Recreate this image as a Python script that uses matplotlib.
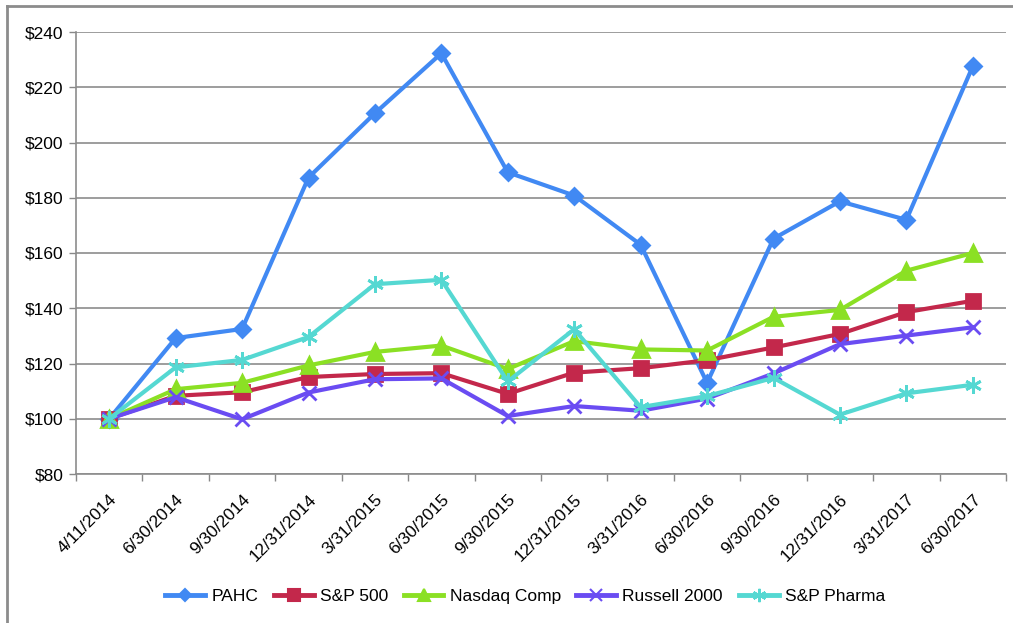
import matplotlib
matplotlib.use("Agg")
import matplotlib.pyplot as plt
from matplotlib.ticker import FuncFormatter
from matplotlib.lines import Line2D

plt.rcParams['font.family'] = ['Liberation Sans', 'DejaVu Sans']

dates = ["4/11/2014", "6/30/2014", "9/30/2014", "12/31/2014", "3/31/2015", "6/30/2015",
         "9/30/2015", "12/31/2015", "3/31/2016", "6/30/2016", "9/30/2016", "12/31/2016",
         "3/31/2017", "6/30/2017"]
pahc = [100, 129.2, 132.5, 187.3, 210.6, 232.3, 189.2, 180.8, 163.0, 113.0, 165.2, 178.7, 172.0, 227.6]
sp500 = [100, 108.3, 109.6, 115.1, 116.2, 116.5, 109.0, 116.7, 118.3, 121.2, 125.8, 130.7, 138.6, 142.7]
nasdaq = [100, 110.7, 113.0, 119.3, 124.2, 126.5, 118.0, 128.1, 125.1, 124.7, 136.9, 139.4, 153.6, 160.0]
russell = [100, 107.8, 99.8, 109.5, 114.3, 114.6, 101.0, 104.6, 102.9, 107.3, 116.4, 127.0, 130.1, 133.1]
pharma = [100, 118.6, 121.3, 129.6, 148.7, 150.3, 113.5, 132.4, 104.2, 108.2, 114.8, 101.5, 109.2, 112.3]

series = [
    ("PAHC", pahc, "#4189F3", "D", 8),
    ("S&P 500", sp500, "#C3284B", "s", 10),
    ("Nasdaq Comp", nasdaq, "#8BE024", "^", 11),
    ("Russell 2000", russell, "#6A4CF2", "x", 10),
    ("S&P Pharma", pharma, "#55D8D2", (6, 2, 0), 12),
]

fig = plt.figure(figsize=(10.13, 6.23), dpi=100)
W, H = 1013, 623
ax = fig.add_axes([76 / W, 1 - 474 / H, (1006 - 76) / W, (474 - 32) / H])

x = list(range(len(dates)))
for name, vals, col, mk, ms in series:
    ax.plot(x, vals, color=col, lw=3, marker=mk, ms=ms, mew=2, mec=col, label=name, zorder=3)

ax.set_xlim(-0.5, len(dates) - 0.5)
ax.set_ylim(80, 240)
ax.set_yticks(range(80, 241, 20))
ax.yaxis.set_major_formatter(FuncFormatter(lambda v, p: f"${int(v)}"))
ax.set_xticks(x)
ax.set_xticklabels(dates, rotation=45, ha="right", rotation_mode="anchor", fontsize=12.5)
ax.set_xticks([i - 0.5 for i in range(len(dates) + 1)], minor=True)
ax.tick_params(axis="x", which="major", length=0, pad=13)
ax.tick_params(axis="x", which="minor", length=5, color="#888888", width=1)
ax.tick_params(axis="y", length=5, color="#888888", width=1, labelsize=12.5, pad=4)

ax.grid(axis="y", color="#8c8c8c", lw=1.2, zorder=0)
ax.set_axisbelow(True)
for s in ["top", "right"]:
    ax.spines[s].set_visible(False)
ax.spines["left"].set_color("#8c8c8c")
ax.spines["bottom"].set_color("#8c8c8c")
ax.spines["left"].set_linewidth(1.2)
ax.spines["bottom"].set_linewidth(1.2)

handles = []
for name, vals, col, mk, ms in series:
    handles.append(Line2D([0], [0], color=col, lw=3.5, marker=mk, ms=ms * 0.8, mew=1.5, mec=col))
fig.legend(handles, [s[0] for s in series], loc="center", bbox_to_anchor=(525 / W, 1 - 596 / H),
           ncol=5, frameon=False, fontsize=12.5, handlelength=2.3, columnspacing=0.9,
           handletextpad=0.35, borderpad=0, borderaxespad=0)

# figure frame (left and top visible)
fig.add_artist(Line2D([7 / W, 7 / W], [0, 1 - 6 / H], color="#8c8c8c", lw=2, transform=fig.transFigure))
fig.add_artist(Line2D([7 / W, 1], [1 - 6 / H, 1 - 6 / H], color="#8c8c8c", lw=2, transform=fig.transFigure))

fig.savefig("out.png", dpi=100)
